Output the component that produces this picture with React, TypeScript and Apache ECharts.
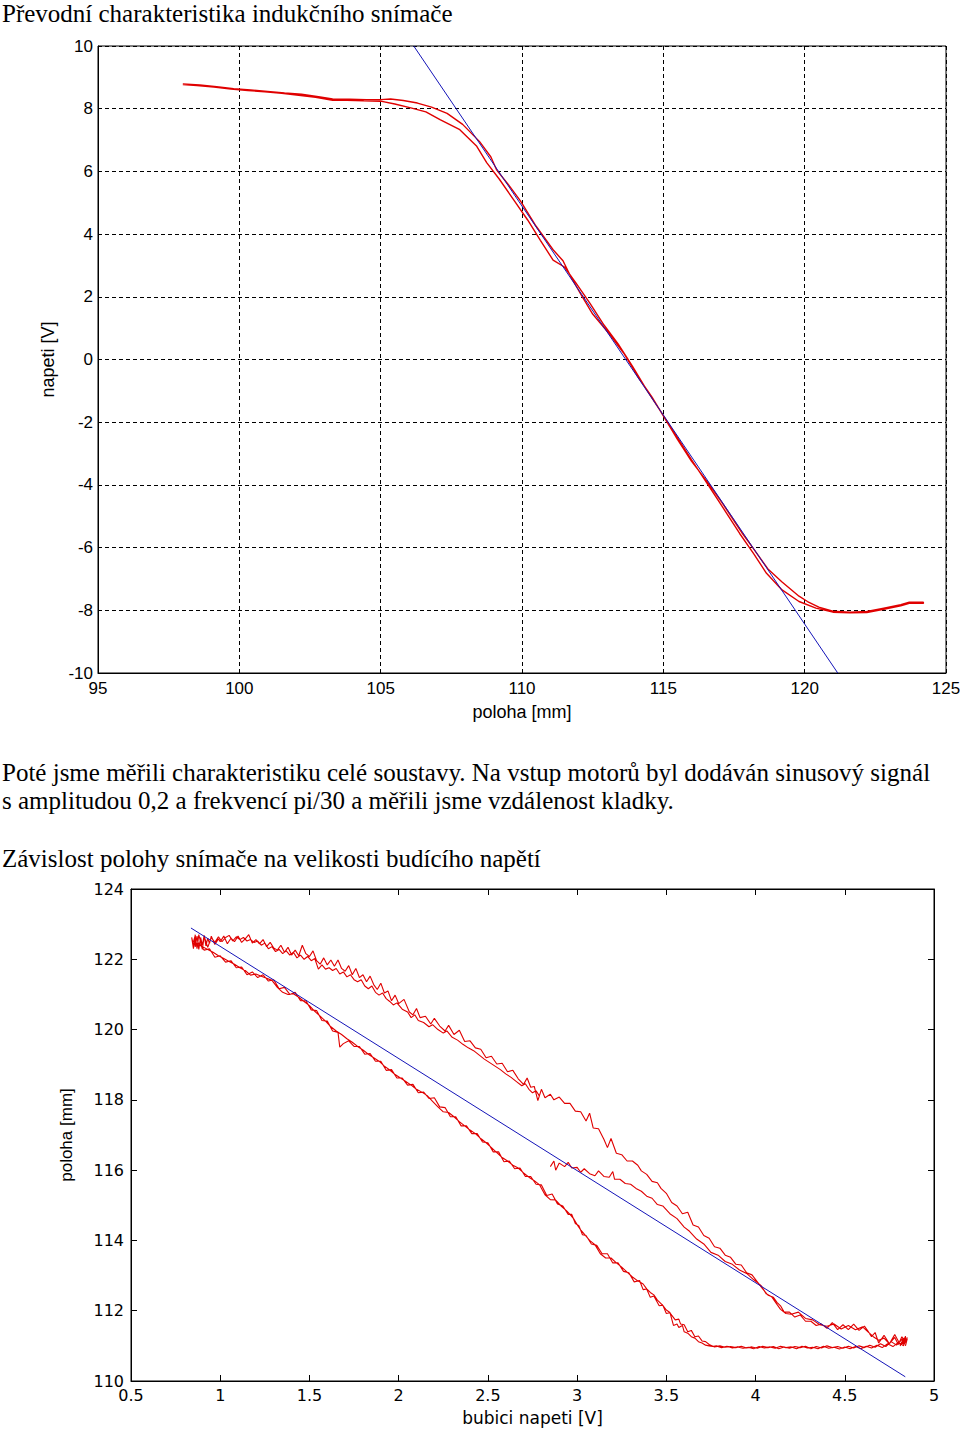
import React, { useEffect, useRef } from "react";
import * as echarts from "echarts";

// ---------- texts ----------
const titleTop = "Převodní charakteristika indukčního snímače";
const paraLine1 = "Poté jsme měřili charakteristiku celé soustavy. Na vstup motorů byl dodáván sinusový signál";
const paraLine2 = "s amplitudou 0,2 a frekvencí pi/30 a měřili jsme vzdálenost kladky.";
const titleBottom = "Závislost polohy snímače na velikosti budícího napětí";

const topXName = "poloha [mm]";
const topYName = "napeti [V]";
const botXName = "bubici napeti [V]";
const botYName = "poloha [mm]";

// ---------- axis ranges ----------
const topX = { min: 95, max: 125, interval: 5 };
const topY = { min: -10, max: 10, interval: 2 };
const botX = { min: 0.5, max: 5, interval: 0.5 };
const botY = { min: 110, max: 124, interval: 2 };

// ---------- top chart data: position [mm] vs voltage [V] ----------
const topRedForward: number[][] = [
  [98.0, 8.79], [98.6, 8.76], [99.2, 8.7], [99.8, 8.64], [100.4, 8.6], [101.0, 8.55], [101.6, 8.5],
  [102.2, 8.46], [102.8, 8.38], [103.3, 8.31], [103.9, 8.3], [104.5, 8.29], [105.0, 8.29], [105.35, 8.31],
  [105.8, 8.26], [106.3, 8.18], [106.8, 8.05], [107.35, 7.85], [107.9, 7.5], [108.5, 6.95], [108.9, 6.46],
  [109.1, 6.05], [109.5, 5.6], [109.95, 5.05], [110.5, 4.25], [111.1, 3.5], [111.45, 3.15], [111.75, 2.6],
  [112.1, 2.05], [112.5, 1.45], [113.1, 0.8], [113.6, 0.2], [114.1, -0.55], [114.6, -1.2], [115.0, -1.8],
  [115.5, -2.55], [116.0, -3.25], [116.6, -3.95], [117.1, -4.6], [117.8, -5.55], [118.2, -6.05],
  [118.7, -6.68], [119.2, -7.1], [119.8, -7.55], [120.1, -7.72], [120.5, -7.9], [121.0, -8.03],
  [121.6, -8.06], [122.2, -8.04], [122.8, -7.93], [123.4, -7.82], [123.7, -7.74], [124.2, -7.74],
];
const topRedBackward: number[][] = [
  [124.2, -7.78], [123.7, -7.78], [123.4, -7.86], [122.8, -7.97], [122.2, -8.07], [121.6, -8.08],
  [121.0, -8.06], [120.4, -7.93], [119.8, -7.72], [119.2, -7.35], [118.65, -6.82], [118.2, -6.2],
  [117.7, -5.55], [117.2, -4.85], [116.6, -4.02], [116.0, -3.2], [115.4, -2.35], [114.9, -1.65],
  [114.4, -0.95], [113.9, -0.2], [113.4, 0.5], [112.9, 1.1], [112.4, 1.8], [111.9, 2.45], [111.5, 2.95],
  [111.1, 3.17], [110.65, 3.8], [110.2, 4.45], [109.7, 5.1], [109.2, 5.75], [108.75, 6.28], [108.4, 6.8],
  [107.8, 7.33], [107.1, 7.65], [106.6, 7.9], [106.1, 8.02], [105.5, 8.15], [105.0, 8.24], [104.4, 8.25],
  [103.8, 8.27], [103.3, 8.27], [102.7, 8.36], [102.1, 8.43], [101.5, 8.49], [100.9, 8.54], [100.3, 8.58],
  [99.7, 8.63], [99.1, 8.69], [98.5, 8.74], [98.0, 8.77],
];
const topFit: number[][] = [[106.17, 10], [121.17, -10]];

// ---------- bottom chart data: position [mm] vs excitation voltage [V] ----------
const botStart: number[][] = [
  [2.85, 116.1], [2.87, 116.26], [2.88, 116.0], [2.9, 116.2], [2.93, 116.1], [2.95, 116.22], [2.97, 116.06],
  [3.0, 116.08], [3.02, 115.94], [3.04, 116.04], [3.07, 115.9], [3.1, 115.84], [3.12, 115.98], [3.15, 115.82],
  [3.18, 115.8], [3.2, 115.96], [3.21, 115.74], [3.24, 115.74], [3.27, 115.62], [3.3, 115.6], [3.33, 115.48],
  [3.36, 115.4], [3.39, 115.26], [3.42, 115.2], [3.45, 115.02], [3.48, 114.98], [3.52, 114.76], [3.56, 114.62],
  [3.6, 114.38], [3.63, 114.26], [3.67, 114.04], [3.71, 113.9], [3.75, 113.66], [3.79, 113.58], [3.83, 113.4],
  [3.87, 113.32], [3.91, 113.16], [3.95, 113.06], [3.99, 112.88], [4.03, 112.72], [4.06, 112.48], [4.09, 112.4],
  [4.12, 112.18], [4.14, 112.04], [4.17, 111.92], [4.2, 111.9], [4.24, 111.96], [4.28, 111.78], [4.32, 111.74],
  [4.36, 111.6], [4.4, 111.56], [4.44, 111.62], [4.48, 111.48], [4.52, 111.58], [4.56, 111.46], [4.6, 111.54],
  [4.63, 111.4], [4.66, 111.26], [4.69, 111.16], [4.72, 111.22], [4.75, 111.06], [4.78, 111.24], [4.8, 111.04],
  [4.82, 111.26], [4.84, 111.1],
];
const botRightEnd: number[][] = [
  [4.84, 111.28], [4.83, 111.02], [4.85, 111.24], [4.84, 111.0], [4.85, 111.2], [4.82, 111.05], [4.84, 111.26],
  [4.81, 111.0], [4.83, 111.22],
];
const botLower1: number[][] = [
  [4.82, 111.18], [4.79, 111.02], [4.76, 111.12], [4.73, 110.98], [4.7, 111.06], [4.67, 110.96], [4.64, 111.02],
  [4.61, 110.95], [4.58, 111.0], [4.55, 110.94], [4.52, 110.99], [4.49, 110.93], [4.46, 110.98], [4.43, 110.95],
  [4.4, 111.0], [4.37, 110.94], [4.34, 110.98], [4.31, 110.92], [4.28, 110.99], [4.25, 110.95], [4.22, 110.98],
  [4.19, 110.93], [4.16, 110.97], [4.13, 110.92], [4.1, 110.98], [4.07, 110.95], [4.04, 110.99], [4.01, 110.93],
  [3.98, 110.97], [3.95, 110.94], [3.92, 110.99], [3.89, 110.95], [3.86, 110.98], [3.83, 110.96], [3.8, 111.0],
  [3.77, 110.97], [3.74, 111.04], [3.72, 111.12], [3.7, 111.14], [3.68, 111.28], [3.66, 111.26], [3.64, 111.44],
  [3.62, 111.4], [3.6, 111.6], [3.58, 111.62], [3.57, 111.76], [3.55, 111.74], [3.52, 111.94], [3.5, 111.92],
  [3.48, 112.16], [3.46, 112.14], [3.43, 112.42], [3.41, 112.38], [3.39, 112.62], [3.37, 112.6], [3.35, 112.86],
  [3.32, 112.82], [3.29, 113.08], [3.26, 113.12], [3.23, 113.36], [3.2, 113.36], [3.17, 113.62], [3.14, 113.62],
  [3.11, 113.86], [3.08, 113.9], [3.05, 114.14], [3.03, 114.16], [3.01, 114.42], [2.99, 114.48], [2.97, 114.74],
  [2.95, 114.74], [2.92, 114.98], [2.89, 115.04], [2.86, 115.32], [2.83, 115.28], [2.8, 115.58], [2.77, 115.6],
  [2.74, 115.82], [2.71, 115.82], [2.68, 116.06], [2.65, 116.04], [2.62, 116.26], [2.59, 116.24], [2.56, 116.52],
  [2.53, 116.52], [2.5, 116.78], [2.47, 116.8], [2.44, 117.04], [2.41, 117.04], [2.38, 117.26], [2.35, 117.26],
  [2.32, 117.52], [2.29, 117.52], [2.26, 117.78], [2.23, 117.8], [2.2, 118.06], [2.17, 118.04], [2.14, 118.22],
  [2.11, 118.2], [2.08, 118.44], [2.05, 118.42], [2.02, 118.62], [1.99, 118.62], [1.96, 118.86], [1.93, 118.84],
  [1.9, 119.1], [1.87, 119.1], [1.84, 119.32], [1.81, 119.3], [1.78, 119.52], [1.75, 119.52], [1.72, 119.68],
  [1.69, 119.6], [1.67, 119.5], [1.66, 119.92], [1.63, 119.96], [1.6, 120.24], [1.57, 120.26], [1.54, 120.54],
  [1.51, 120.56], [1.48, 120.82], [1.45, 120.82], [1.42, 121.06], [1.39, 121.0], [1.36, 121.2], [1.33, 121.16],
  [1.3, 121.42], [1.27, 121.38], [1.24, 121.56], [1.21, 121.48], [1.18, 121.64], [1.15, 121.56], [1.12, 121.78],
  [1.09, 121.76], [1.06, 121.96], [1.03, 121.92], [1.0, 122.1], [0.97, 122.06], [0.94, 122.3], [0.91, 122.26],
  [0.88, 122.46], [0.85, 122.4],
];
const botLeftEnd: number[][] = [
  [0.84, 122.62], [0.85, 122.3], [0.86, 122.7], [0.86, 122.35], [0.87, 122.66], [0.88, 122.28], [0.89, 122.62],
  [0.9, 122.4], [0.91, 122.68], [0.92, 122.38], [0.93, 122.6], [0.94, 122.45], [0.95, 122.66], [0.97, 122.42],
  [0.99, 122.58],
];
const botUpper1: number[][] = [
  [1.0, 122.5], [1.02, 122.66], [1.04, 122.44], [1.06, 122.6], [1.08, 122.5], [1.1, 122.66], [1.12, 122.48],
  [1.14, 122.58], [1.16, 122.7], [1.18, 122.46], [1.2, 122.56], [1.22, 122.44], [1.24, 122.56], [1.26, 122.36],
  [1.28, 122.48], [1.3, 122.32], [1.32, 122.26], [1.34, 122.4], [1.36, 122.2], [1.38, 122.34], [1.4, 122.12],
  [1.42, 122.26], [1.44, 122.1], [1.46, 122.4], [1.48, 122.16], [1.5, 122.08], [1.52, 122.24], [1.54, 121.96],
  [1.56, 121.86], [1.58, 122.04], [1.6, 121.84], [1.62, 121.98], [1.64, 121.8], [1.66, 121.98], [1.68, 121.74],
  [1.7, 121.66], [1.72, 121.82], [1.74, 121.56], [1.76, 121.74], [1.78, 121.48], [1.8, 121.56], [1.82, 121.36],
  [1.84, 121.52], [1.86, 121.28], [1.88, 121.14], [1.9, 121.32], [1.92, 121.04], [1.94, 121.1], [1.96, 120.82],
  [1.98, 120.98], [2.0, 120.74], [2.03, 120.86], [2.06, 120.5], [2.08, 120.42], [2.1, 120.6], [2.12, 120.34],
  [2.15, 120.38], [2.18, 120.16], [2.2, 120.32], [2.23, 120.1], [2.26, 119.96], [2.28, 120.12], [2.31, 119.86],
  [2.34, 119.98], [2.37, 119.66], [2.4, 119.68], [2.43, 119.48], [2.46, 119.44], [2.49, 119.2], [2.52, 119.24],
  [2.55, 119.02], [2.58, 119.04], [2.61, 118.8], [2.64, 118.84], [2.67, 118.6], [2.7, 118.44], [2.72, 118.62],
  [2.74, 118.36], [2.76, 118.38], [2.78, 117.98], [2.8, 118.3], [2.82, 118.06], [2.85, 118.16], [2.87, 118.0],
  [2.9, 118.08], [2.93, 117.9], [2.96, 117.9], [2.99, 117.68], [3.02, 117.66], [3.05, 117.4], [3.07, 117.62],
  [3.09, 117.2], [3.12, 117.18], [3.15, 116.88], [3.17, 116.64], [3.19, 116.9], [3.22, 116.48], [3.25, 116.44],
  [3.28, 116.26], [3.31, 116.26], [3.34, 116.14], [3.36, 115.98], [3.39, 115.88], [3.42, 115.68], [3.45, 115.64],
  [3.47, 115.48], [3.5, 115.34], [3.53, 115.08], [3.56, 114.98], [3.59, 114.76], [3.62, 114.8], [3.65, 114.44],
  [3.68, 114.38], [3.71, 114.14], [3.74, 114.06], [3.77, 113.82], [3.8, 113.78], [3.83, 113.58], [3.86, 113.52],
  [3.89, 113.32], [3.92, 113.3], [3.95, 113.08], [3.98, 113.02], [4.01, 112.82], [4.04, 112.62], [4.07, 112.44],
  [4.1, 112.38], [4.12, 112.24], [4.14, 112.14], [4.16, 111.96], [4.19, 111.96], [4.22, 111.82], [4.25, 111.88],
  [4.28, 111.7], [4.31, 111.7], [4.34, 111.58], [4.37, 111.62], [4.4, 111.5], [4.43, 111.66], [4.46, 111.46],
  [4.49, 111.6], [4.52, 111.46], [4.55, 111.62], [4.58, 111.44], [4.61, 111.56], [4.63, 111.42], [4.65, 111.26],
  [4.67, 111.38], [4.69, 111.08], [4.72, 111.3], [4.75, 111.06], [4.78, 111.32], [4.81, 111.04], [4.84, 111.26],
];
const botLower2: number[][] = [
  [4.83, 111.0], [4.8, 111.1], [4.77, 110.98], [4.74, 111.06], [4.71, 110.95], [4.68, 111.02], [4.65, 110.94],
  [4.62, 110.99], [4.59, 110.92], [4.56, 110.98], [4.53, 110.92], [4.5, 110.97], [4.47, 110.91], [4.44, 110.96],
  [4.41, 110.93], [4.38, 110.99], [4.35, 110.92], [4.32, 110.96], [4.29, 110.94], [4.26, 110.99], [4.23, 110.92],
  [4.2, 110.97], [4.17, 110.95], [4.14, 110.99], [4.11, 110.93], [4.08, 110.97], [4.05, 110.94], [4.02, 110.98],
  [3.99, 110.92], [3.96, 110.96], [3.93, 110.93], [3.9, 110.97], [3.87, 110.94], [3.84, 110.99], [3.81, 110.95],
  [3.78, 111.0], [3.76, 110.98], [3.74, 111.0], [3.72, 111.02], [3.7, 111.08], [3.68, 111.12], [3.66, 111.22],
  [3.64, 111.26], [3.62, 111.36], [3.6, 111.4], [3.59, 111.58], [3.57, 111.52], [3.56, 111.62], [3.54, 111.58],
  [3.52, 111.95], [3.5, 112.02], [3.48, 112.15], [3.45, 112.3], [3.43, 112.45], [3.41, 112.52], [3.39, 112.62],
  [3.37, 112.76], [3.34, 112.85], [3.31, 112.96], [3.28, 113.1], [3.25, 113.24], [3.22, 113.36], [3.19, 113.5],
  [3.16, 113.5], [3.13, 113.62], [3.1, 113.88], [3.07, 114.0], [3.05, 114.12], [3.02, 114.3], [3.0, 114.45],
  [2.98, 114.62], [2.96, 114.74], [2.94, 114.85], [2.91, 114.98], [2.88, 115.15], [2.85, 115.16], [2.82, 115.3],
  [2.79, 115.58], [2.76, 115.7], [2.73, 115.8], [2.7, 115.92], [2.67, 116.06], [2.64, 116.14], [2.61, 116.26],
  [2.58, 116.36], [2.55, 116.5], [2.52, 116.64], [2.49, 116.78], [2.46, 116.9], [2.43, 117.04], [2.4, 117.14],
  [2.37, 117.26], [2.34, 117.38], [2.31, 117.52], [2.28, 117.64], [2.25, 117.66], [2.22, 117.8], [2.19, 117.96],
  [2.16, 118.12], [2.13, 118.22], [2.1, 118.3], [2.07, 118.42], [2.04, 118.52], [2.01, 118.62], [1.98, 118.72],
  [1.95, 118.85], [1.92, 118.96], [1.89, 119.1], [1.86, 119.2], [1.83, 119.3], [1.8, 119.42], [1.77, 119.52],
  [1.74, 119.64], [1.71, 119.74], [1.68, 119.86], [1.65, 119.96], [1.62, 120.08], [1.59, 120.24], [1.56, 120.38],
  [1.53, 120.52], [1.5, 120.68], [1.47, 120.8], [1.44, 120.92], [1.41, 121.02], [1.38, 121.0], [1.35, 121.06],
  [1.32, 121.2], [1.29, 121.4], [1.26, 121.46], [1.23, 121.52], [1.2, 121.58], [1.17, 121.55], [1.14, 121.68],
  [1.11, 121.76], [1.08, 121.86], [1.05, 121.94], [1.02, 122.02], [0.99, 122.1], [0.96, 122.2], [0.93, 122.28],
  [0.9, 122.36], [0.87, 122.44], [0.85, 122.5],
];
const botUpper2: number[][] = [
  [0.86, 122.68], [0.87, 122.3], [0.88, 122.7], [0.9, 122.28], [0.91, 122.66], [0.93, 122.34], [0.95, 122.62],
  [0.97, 122.48], [0.99, 122.64], [1.01, 122.5], [1.03, 122.62], [1.05, 122.68], [1.07, 122.52], [1.09, 122.64],
  [1.11, 122.56], [1.13, 122.62], [1.15, 122.52], [1.17, 122.56], [1.19, 122.48], [1.21, 122.52], [1.23, 122.4],
  [1.25, 122.46], [1.27, 122.3], [1.29, 122.36], [1.31, 122.22], [1.33, 122.28], [1.35, 122.16], [1.37, 122.24],
  [1.39, 122.12], [1.41, 122.2], [1.43, 122.04], [1.45, 122.12], [1.47, 122.0], [1.49, 122.08], [1.51, 121.96],
  [1.53, 122.02], [1.55, 121.72], [1.57, 121.84], [1.59, 121.72], [1.61, 121.76], [1.63, 121.68], [1.65, 121.74],
  [1.67, 121.58], [1.69, 121.64], [1.71, 121.5], [1.73, 121.56], [1.75, 121.42], [1.77, 121.36], [1.79, 121.42],
  [1.81, 121.24], [1.83, 121.16], [1.85, 121.24], [1.87, 121.06], [1.89, 120.98], [1.91, 121.04], [1.93, 120.88],
  [1.95, 120.8], [1.97, 120.7], [1.99, 120.76], [2.02, 120.58], [2.05, 120.5], [2.07, 120.34], [2.09, 120.42],
  [2.11, 120.26], [2.14, 120.2], [2.17, 120.08], [2.19, 120.14], [2.22, 120.0], [2.25, 119.9], [2.27, 119.96],
  [2.3, 119.78], [2.33, 119.7], [2.36, 119.58], [2.39, 119.48], [2.42, 119.4], [2.45, 119.28], [2.48, 119.16],
  [2.51, 119.06], [2.54, 118.96], [2.57, 118.86], [2.6, 118.74], [2.63, 118.64], [2.66, 118.52], [2.69, 118.4],
  [2.71, 118.46], [2.73, 118.3], [2.75, 118.2], [2.77, 118.26], [2.79, 118.1],
];
const botFit: number[][] = [[0.836, 122.89], [4.839, 110.12]];

// ---------- styles ----------
const RED = "#e00000";
const BLUE = "#1414b8";
const ARIAL = '"Liberation Sans", Arial, sans-serif';
const SANS = '"DejaVu Sans", sans-serif';
const SERIF = '"Liberation Serif", "Times New Roman", serif';

export default function App() {
  const ref = useRef<HTMLDivElement>(null);

  useEffect(() => {
    if (!ref.current) return;
    const chart = echarts.init(ref.current, undefined, { renderer: "svg" });

    const botRed = ([] as number[][]).concat(
      botStart, botRightEnd, botLower1, botLeftEnd, botUpper1, botRightEnd, botLower2, botUpper2
    );
    const topRed = topRedForward.concat(topRedBackward);

    const textEl = (text: string, x: number, y: number, size: number) => ({
      type: "text",
      x,
      y,
      silent: true,
      style: {
        text,
        fontSize: size,
        fontFamily: SERIF,
        fill: "#000",
        textVerticalAlign: "middle",
        verticalAlign: "middle",
      },
    });

    const option: any = {
      animation: false,
      backgroundColor: "#fff",
      grid: [
        { left: 98, top: 46, width: 848, height: 627, show: true, borderColor: "#000", borderWidth: 1, backgroundColor: "transparent", outerBoundsMode: "none", containLabel: false },
        { left: 131, top: 889, width: 803, height: 492, show: true, borderColor: "#000", borderWidth: 1, backgroundColor: "transparent", outerBoundsMode: "none", containLabel: false },
      ],
      xAxis: [
        {
          gridIndex: 0, type: "value", ...topX,
          axisLine: { show: true, onZero: false, lineStyle: { color: "#000" } },
          axisTick: { show: false },
          splitLine: { show: true, lineStyle: { color: "#000", type: [4, 3], width: 1 } },
          axisLabel: { color: "#000", fontFamily: ARIAL, fontSize: 17, margin: 7, showMinLabel: true, showMaxLabel: true },
          name: topXName, nameLocation: "middle", nameGap: 30,
          nameTextStyle: { color: "#000", fontFamily: ARIAL, fontSize: 18 },
        },
        {
          gridIndex: 1, type: "value", ...botX,
          axisLine: { show: true, onZero: false, lineStyle: { color: "#000" } },
          axisTick: { show: true, inside: true, length: 6, lineStyle: { color: "#000" } },
          splitLine: { show: false },
          axisLabel: { color: "#000", fontFamily: SANS, fontSize: 16, margin: 6, showMinLabel: true, showMaxLabel: true },
          name: botXName, nameLocation: "middle", nameGap: 28,
          nameTextStyle: { color: "#000", fontFamily: SANS, fontSize: 17 },
        },
        {
          gridIndex: 1, type: "value", position: "top", ...botX,
          axisLine: { show: true, onZero: false, lineStyle: { color: "#000" } },
          axisTick: { show: true, inside: true, length: 6, lineStyle: { color: "#000" } },
          splitLine: { show: false },
          axisLabel: { show: false },
        },
      ],
      yAxis: [
        {
          gridIndex: 0, type: "value", ...topY,
          axisLine: { show: true, onZero: false, lineStyle: { color: "#000" } },
          axisTick: { show: false },
          splitLine: { show: true, lineStyle: { color: "#000", type: [4, 3], width: 1 } },
          axisLabel: { color: "#000", fontFamily: ARIAL, fontSize: 17, margin: 5, showMinLabel: true, showMaxLabel: true },
          name: topYName, nameLocation: "middle", nameGap: 41, nameRotate: 90,
          nameTextStyle: { color: "#000", fontFamily: ARIAL, fontSize: 18 },
        },
        {
          gridIndex: 1, type: "value", ...botY,
          axisLine: { show: true, onZero: false, lineStyle: { color: "#000" } },
          axisTick: { show: true, inside: true, length: 6, lineStyle: { color: "#000" } },
          splitLine: { show: false },
          axisLabel: { color: "#000", fontFamily: SANS, fontSize: 16, margin: 7, showMinLabel: true, showMaxLabel: true },
          name: botYName, nameLocation: "middle", nameGap: 56, nameRotate: 90,
          nameTextStyle: { color: "#000", fontFamily: ARIAL, fontSize: 17 },
        },
        {
          gridIndex: 1, type: "value", position: "right", ...botY,
          axisLine: { show: true, onZero: false, lineStyle: { color: "#000" } },
          axisTick: { show: true, inside: true, length: 6, lineStyle: { color: "#000" } },
          splitLine: { show: false },
          axisLabel: { show: false },
        },
      ],
      series: [
        {
          type: "line", xAxisIndex: 0, yAxisIndex: 0, data: topRed, symbol: "none", silent: true,
          lineStyle: { color: RED, width: 1.4 },
        },
        {
          type: "line", xAxisIndex: 0, yAxisIndex: 0, data: topFit, symbol: "none", silent: true,
          lineStyle: { color: BLUE, width: 1 },
        },
        {
          type: "line", xAxisIndex: 1, yAxisIndex: 1, data: botRed, symbol: "none", silent: true,
          lineStyle: { color: RED, width: 1.1 },
        },
        {
          type: "line", xAxisIndex: 1, yAxisIndex: 1, data: botFit, symbol: "none", silent: true,
          lineStyle: { color: BLUE, width: 1 },
        },
      ],
      graphic: [
        textEl(titleTop, 2, 13, 25),
        textEl(paraLine1, 2, 772, 25),
        textEl(paraLine2, 2, 800, 25),
        textEl(titleBottom, 2, 858, 25),
      ],
    };

    chart.setOption(option);
    return () => chart.dispose();
  }, []);

  return (
    <div
      ref={ref}
      style={{ position: "absolute", left: 0, top: 0, width: 960, height: 1430, background: "#fff" }}
    />
  );
}
